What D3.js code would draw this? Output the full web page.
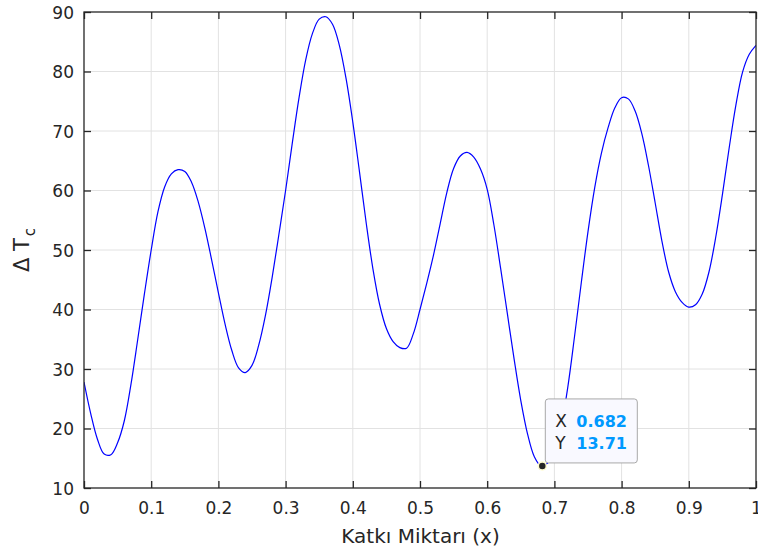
<!DOCTYPE html>
<html>
<head>
<meta charset="utf-8">
<script src="https://cdn.jsdelivr.net/npm/d3@7"></script>
<style>
  body { margin: 0; background: #fff; }
  text { font-family: "DejaVu Sans", sans-serif; fill: #262626; }
</style>
</head>
<body>
<svg id="chart" width="758" height="552"></svg>
<script>
const margin = {top: 12, right: 2, bottom: 64, left: 84};

// delta Tc every 0.01 of katki miktari, from 0 to 1
const katki = d3.range(101).map(i => i / 100);
const deltaTc = [
  27.8, 22.5, 18.2, 15.7, 15.6, 17.6, 21.3, 27.5, 35.0, 42.7,
  50.0, 56.4, 60.6, 62.8, 63.5, 63.2, 61.4, 58.1, 53.6, 48.3,
  42.8, 37.5, 33.1, 30.2, 29.4, 30.6, 34.0, 39.0, 45.4, 52.6,
  60.0, 68.0, 75.6, 82.0, 86.4, 88.8, 89.2, 87.9, 84.4, 78.8,
  71.5, 63.1, 54.5, 46.8, 40.8, 36.8, 34.6, 33.6, 33.5, 35.9,
  40.0, 44.4, 49.1, 54.4, 59.7, 63.7, 65.8, 66.4, 65.6, 63.6,
  60.2, 54.2, 46.9, 39.3, 31.7, 24.7, 19.1, 15.3, 13.75, 14.2,
  16.2, 20.4, 27.0, 35.5, 44.5, 53.1, 60.5, 66.3, 70.6, 73.9,
  75.6, 75.4, 73.4, 69.6, 64.2, 57.9, 51.5, 46.3, 43.0, 41.2,
  40.4, 40.8, 42.6, 46.3, 52.1, 59.3, 67.1, 74.3, 79.9, 82.9,
  84.4];

const xTicks = [0, 0.1, 0.2, 0.3, 0.4, 0.5, 0.6, 0.7, 0.8, 0.9, 1];
const yTicks = [10, 20, 30, 40, 50, 60, 70, 80, 90];
const tipX = 0.682, tipY = 13.71;

const data = katki.map((x, i) => ({x: x, y: deltaTc[i]}));

const svg = d3.select("#chart");
const width = +svg.attr("width") - margin.left - margin.right;
const height = +svg.attr("height") - margin.top - margin.bottom;
const g = svg.append("g").attr("transform", `translate(${margin.left}, ${margin.top})`);

const x = d3.scaleLinear().domain([0, 1]).range([0, width]);
const y = d3.scaleLinear().domain([10, 90]).range([height, 0]);

// grid
g.append("g").selectAll("line").data(xTicks.slice(1, -1)).join("line")
  .attr("x1", d => x(d)).attr("x2", d => x(d))
  .attr("y1", 0).attr("y2", height)
  .attr("stroke", "#e2e2e2");
g.append("g").selectAll("line").data(yTicks.slice(1, -1)).join("line")
  .attr("y1", d => y(d)).attr("y2", d => y(d))
  .attr("x1", 0).attr("x2", width)
  .attr("stroke", "#e2e2e2");

svg.append("clipPath").attr("id", "clip")
  .append("rect").attr("width", width).attr("height", height);

const line = d3.line()
  .x(d => x(d.x))
  .y(d => y(d.y))
  .curve(d3.curveCatmullRom.alpha(0.5));

g.append("path")
  .datum(data)
  .attr("clip-path", "url(#clip)")
  .attr("fill", "none")
  .attr("stroke", "#0000ff")
  .attr("stroke-width", 1.2)
  .attr("d", line);

// axes, ticks pointing inward (matlab style)
const fmt = d => String(d);
const xAxis = g.append("g").attr("transform", `translate(0, ${height})`)
  .call(d3.axisBottom(x).tickValues(xTicks).tickFormat(fmt).tickSizeInner(-7).tickSizeOuter(0).tickPadding(14));
const yAxis = g.append("g")
  .call(d3.axisLeft(y).tickValues(yTicks).tickFormat(fmt).tickSizeInner(-7).tickSizeOuter(0).tickPadding(10));
const topAxis = g.append("g")
  .call(d3.axisTop(x).tickValues(xTicks).tickFormat("").tickSizeInner(-7).tickSizeOuter(0));
const rightAxis = g.append("g").attr("transform", `translate(${width}, 0)`)
  .call(d3.axisRight(y).tickValues(yTicks).tickFormat("").tickSizeInner(-7).tickSizeOuter(0));

[xAxis, yAxis, topAxis, rightAxis].forEach(a => {
  a.select(".domain").remove();
  a.selectAll(".tick line").attr("stroke", "#262626").attr("stroke-width", 1.3);
  a.selectAll(".tick text").attr("font-size", 17).attr("font-family", "DejaVu Sans").attr("fill", "#262626");
});
yAxis.selectAll(".tick text").attr("dy", "0.36em");

g.append("rect")
  .attr("width", width).attr("height", height)
  .attr("fill", "none")
  .attr("stroke", "#262626")
  .attr("stroke-width", 1.3);

// axis labels
g.append("text")
  .attr("x", width / 2 + 0.5)
  .attr("y", height + 55)
  .attr("text-anchor", "middle")
  .attr("font-size", 20)
  .text("Katkı Miktarı (x)");

const yl = g.append("text")
  .attr("transform", `translate(${-55}, ${height / 2}) rotate(-90)`)
  .attr("text-anchor", "middle")
  .attr("font-size", 21);
yl.append("tspan").text("Δ T");
yl.append("tspan").attr("font-size", 15).attr("dy", 6).attr("dx", 2).text("c");

// data tip
const px = x(tipX), py = y(tipY);
const tip = g.append("g").attr("transform", `translate(${px}, ${py})`);
tip.append("rect")
  .attr("x", 3).attr("y", -67)
  .attr("width", 92).attr("height", 64)
  .attr("rx", 3)
  .attr("fill", "#f9f9ff")
  .attr("stroke", "#a8a8a8");
tip.append("circle")
  .attr("r", 4)
  .attr("fill", "#262626")
  .attr("stroke", "#fffcd0")
  .attr("stroke-width", 1.5);
const rows = [["X", tipX.toFixed(3)], ["Y", tipY.toFixed(2)]];
rows.forEach((r, i) => {
  const t = tip.append("text").attr("x", 13).attr("y", -39 + i * 22).attr("font-size", 17);
  t.append("tspan").text(r[0]);
  t.append("tspan").attr("x", 34).attr("font-weight", "bold").attr("font-size", 16)
    .style("fill", "#0099ff").text(r[1]);
});
</script>
</body>
</html>
